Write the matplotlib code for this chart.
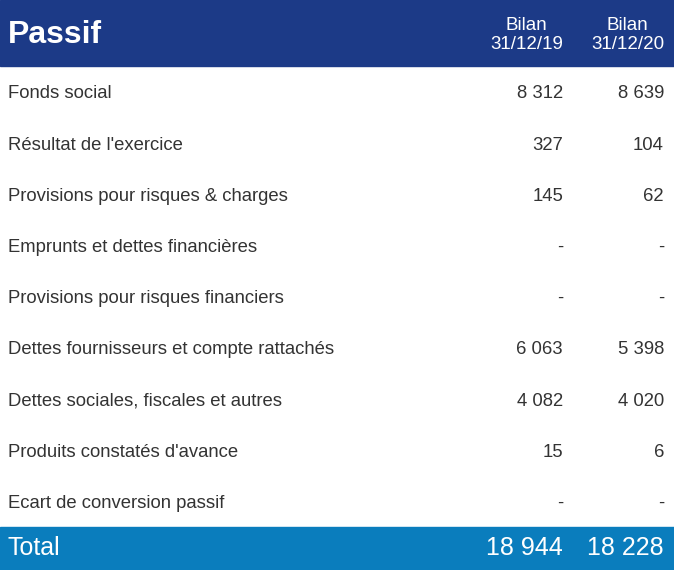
import matplotlib.pyplot as plt
from matplotlib.patches import Rectangle

title = "Passif"
col_headers = ["Bilan\n31/12/19", "Bilan\n31/12/20"]
labels = [
    "Fonds social",
    "Résultat de l'exercice",
    "Provisions pour risques & charges",
    "Emprunts et dettes financières",
    "Provisions pour risques financiers",
    "Dettes fournisseurs et compte rattachés",
    "Dettes sociales, fiscales et autres",
    "Produits constatés d'avance",
    "Ecart de conversion passif",
]
vals_2019 = ["8 312", "327", "145", "-", "-", "6 063", "4 082", "15", "-"]
vals_2020 = ["8 639", "104", "62", "-", "-", "5 398", "4 020", "6", "-"]
total_label = "Total"
total_2019 = "18 944"
total_2020 = "18 228"

plt.rcParams["font.family"] = ["Liberation Sans Narrow", "Liberation Sans", "DejaVu Sans"]

W, H = 674, 570
fig = plt.figure(figsize=(W / 100, H / 100), dpi=100)
ax = fig.add_axes([0, 0, 1, 1])
ax.set_xlim(0, W)
ax.set_ylim(H, 0)
ax.axis("off")

dark = "#1c3a87"
light = "#0a7dbd"
txt = "#333333"
x_label, x_c1, x_c2 = 8, 563, 664

# header
ax.add_patch(Rectangle((0, 0), W, 66, color=dark))
ax.text(x_label, 35, title, color="white", fontsize=23, fontweight="bold", va="center")
for x, h in zip([x_c1, x_c2], col_headers):
    ax.text(x, 35, h, color="white", fontsize=13.5, ha="right", va="center",
            multialignment="center", linespacing=1.2)

# rows
row_top, row_h = 68, 51.2
for i, (lab, a, b) in enumerate(zip(labels, vals_2019, vals_2020)):
    y = row_top + row_h * i + 26
    ax.text(x_label, y, lab, color=txt, fontsize=13.3, va="center")
    ax.text(x_c1, y, a, color=txt, fontsize=13.3, va="center", ha="right")
    ax.text(x_c2, y, b, color=txt, fontsize=13.3, va="center", ha="right")

# total
ax.add_patch(Rectangle((0, 527), W, 43, color=light))
ax.text(x_label, 548, total_label, color="white", fontsize=18, va="center")
ax.text(x_c1, 548, total_2019, color="white", fontsize=18, va="center", ha="right")
ax.text(x_c2, 548, total_2020, color="white", fontsize=18, va="center", ha="right")

fig.savefig("out.png", dpi=100)
